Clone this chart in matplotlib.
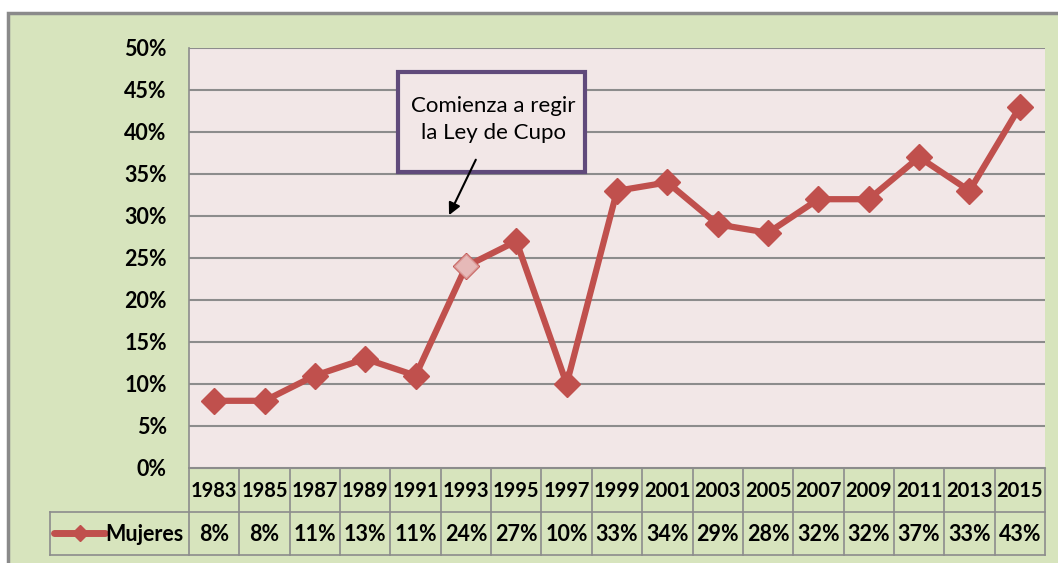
import matplotlib.pyplot as plt
from matplotlib.patches import Rectangle
from matplotlib.lines import Line2D

years = ['1983', '1985', '1987', '1989', '1991', '1993', '1995', '1997', '1999',
         '2001', '2003', '2005', '2007', '2009', '2011', '2013', '2015']
mujeres = [8, 8, 11, 13, 11, 24, 27, 10, 33, 34, 29, 28, 32, 32, 37, 33, 43]
highlight = '1993'
note = 'Comienza a regir\nla Ley de Cupo'

green = '#D7E4BD'
pink = '#F2E7E7'
red = '#C0504D'
grid = '#8C8C8C'
plt.rcParams['font.family'] = ['Lato', 'DejaVu Sans']
wt = 'bold'
fs = 14.5

W, H = 1058, 563
fig = plt.figure(figsize=(W / 100, H / 100), dpi=100)
fig.patch.set_facecolor('white')

# green chart area with grey frame
bg = fig.add_axes([0, 0, 1, 1])
bg.set_xlim(0, W)
bg.set_ylim(H, 0)
bg.axis('off')
bg.add_patch(Rectangle((8, 13), W + 10, H + 10, facecolor=green, edgecolor='#8A8A8A', lw=2.5))

left, right, top, bottom = 189, 1045, 48, 468
ax = fig.add_axes([left / W, 1 - bottom / H, (right - left) / W, (bottom - top) / H])
ax.set_facecolor(pink)
n = len(years)
xs = list(range(n))
ax.set_xlim(-0.5, n - 0.5)
ax.set_ylim(0, 50)
ax.set_yticks(range(0, 51, 5))
ax.set_yticklabels([f'{v}%' for v in range(0, 51, 5)], fontsize=15.5, fontweight=wt)
ax.set_xticks([])
ax.tick_params(axis='y', length=0, pad=16)
ax.grid(axis='y', color=grid, lw=1.5)
ax.set_axisbelow(True)
for s in ['top', 'right']:
    ax.spines[s].set_visible(False)
ax.spines['left'].set_color(grid)
ax.spines['bottom'].set_color(grid)
ax.spines['left'].set_linewidth(1.2)

ax.plot(xs, mujeres, color=red, lw=4.5, marker='D', markersize=13.5, zorder=3)
hi = years.index(highlight)
ax.plot([hi], [mujeres[hi]], marker='D', markersize=12, color='#E6B9B8',
        markeredgecolor='#D99694', markeredgewidth=1, zorder=4)

# annotation box
ax.add_patch(Rectangle((3.65, 35.2), 3.71, 11.9, facecolor=pink, edgecolor='#604A7B', lw=3, zorder=5))
ax.text(5.55, 41.5, note, ha='center', va='center', fontsize=16, linespacing=1.45, zorder=6)
ax.annotate('', xy=(4.64, 29.8), xytext=(5.22, 37.0),
            arrowprops=dict(arrowstyle='-|>', color='black', lw=1.5, mutation_scale=18), zorder=6)

# data table
tab_bottom = 555
ta = fig.add_axes([left / W, 1 - tab_bottom / H, (right - left) / W, (tab_bottom - bottom) / H])
ta.set_xlim(-0.5, n - 0.5)
ta.set_ylim(0, 2)
ta.axis('off')
leg_left = -0.5 - (left - 50) / ((right - left) / n)
lc = '#8C8C8C'
ta.plot([-0.5, n - 0.5], [2, 2], color=lc, lw=1.2, clip_on=False)
ta.plot([leg_left, n - 0.5], [1, 1], color=lc, lw=1.2, clip_on=False)
ta.plot([leg_left, n - 0.5], [0, 0], color=lc, lw=1.2, clip_on=False)
ta.plot([leg_left, leg_left], [0, 1], color=lc, lw=1.2, clip_on=False)
for i in range(n + 1):
    ta.plot([i - 0.5, i - 0.5], [0, 2], color=lc, lw=1.2, clip_on=False)
for i, (y, v) in enumerate(zip(years, mujeres)):
    ta.text(i, 1.47, y, ha='center', va='center', fontsize=fs, fontweight=wt)
    ta.text(i, 0.47, f'{v}%', ha='center', va='center', fontsize=15.5, fontweight=wt)
ta.add_line(Line2D([leg_left + 0.08, leg_left + 1.1], [0.5, 0.5], color=red, lw=5,
                   solid_capstyle='round', clip_on=False))
ta.add_line(Line2D([leg_left + 0.59], [0.5], color=red, marker='D', markersize=8, clip_on=False))
ta.text(-0.6, 0.47, 'Mujeres', ha='right', va='center', fontsize=15.5, fontweight=wt)

fig.savefig('out.png', dpi=100)
